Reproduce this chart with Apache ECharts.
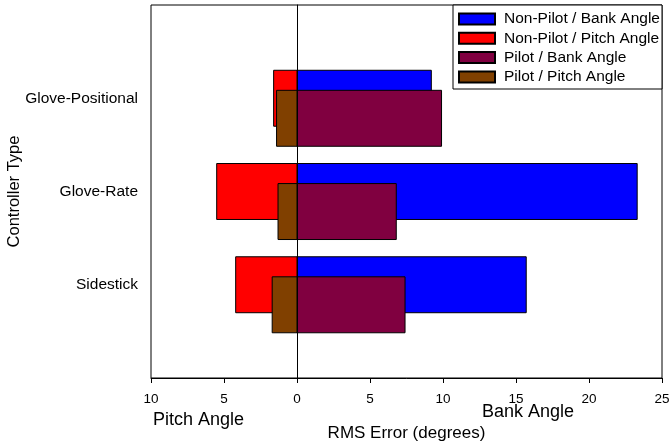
<!DOCTYPE html>
<html>
<head>
<meta charset="utf-8">
<script src="https://cdn.jsdelivr.net/npm/echarts@6/dist/echarts.min.js"></script>
<style>
  html, body { margin: 0; padding: 0; background: #fff; }
  #chart { width: 671px; height: 448px; }
</style>
</head>
<body>
<div id="chart"></div>
<script>
// Category slots on the y axis (blank slots pad the ends)
const categories = ['', 'Sidestick', 'Glove-Rate', 'Glove-Positional', ' '];
const controllers = ['Sidestick', 'Glove-Rate', 'Glove-Positional'];

// RMS error (degrees)
const nonPilotBank  = [15.7, 23.3, 9.2];
const nonPilotPitch = [4.2, 5.5, 1.6];
const pilotBank     = [7.4, 6.8, 9.9];
const pilotPitch    = [1.7, 1.3, 1.4];

const seriesNames = ['Non-Pilot / Bank Angle', 'Non-Pilot / Pitch Angle', 'Pilot / Bank Angle', 'Pilot / Pitch Angle'];
const seriesColors = ['#0000ff', '#ff0000', '#800040', '#804000'];

const xMin = -10, xMax = 25, xStep = 5;

const FONT = '"Liberation Sans", Arial, Helvetica, sans-serif';

function toData(vals, sign) {
  return vals.map((v, i) => [sign * v, categories.indexOf(controllers[i])]);
}

function makeRender(isPilot) {
  return function (params, api) {
    const v = api.value(0);
    const ci = api.value(1);
    const base = api.coord([0, ci]);
    const end = api.coord([v, ci]);
    const unit = api.size([0, 1])[1];
    const h = unit * 0.6;
    const cy = base[1] + (isPilot ? unit * 0.215 : 0);
    return {
      type: 'rect',
      shape: {
        x: Math.min(base[0], end[0]),
        y: cy - h / 2,
        width: Math.abs(end[0] - base[0]),
        height: h
      },
      style: api.style({ stroke: '#000', lineWidth: 1 })
    };
  };
}

const dataSets = [
  toData(nonPilotBank, 1),
  toData(nonPilotPitch, -1),
  toData(pilotBank, 1),
  toData(pilotPitch, -1)
];

const series = dataSets.map((d, i) => ({
  name: seriesNames[i],
  type: 'custom',
  renderItem: makeRender(i >= 2),
  encode: { x: 0, y: 1 },
  itemStyle: { color: seriesColors[i], borderColor: '#000', borderWidth: 1 },
  data: d,
  z: 2 + i
}));

series[3].markLine = {
  silent: true,
  symbol: ['none', 'none'],
  label: { show: false },
  lineStyle: { color: '#000', width: 1, type: 'solid' },
  data: [{ xAxis: 0 }],
  z: 10
};

const chart = echarts.init(document.getElementById('chart'), null, { renderer: 'canvas' });
chart.setOption({
  animation: false,
  backgroundColor: '#fff',
  textStyle: { fontFamily: FONT },
  grid: {
    left: 151, right: 9, top: 5, bottom: 70,
    containLabel: false,
    outerBoundsMode: 'none',
    show: true, borderColor: '#000', borderWidth: 1, backgroundColor: 'transparent'
  },
  xAxis: {
    type: 'value',
    min: xMin, max: xMax, interval: xStep,
    axisLine: { show: true, lineStyle: { color: '#000', width: 1 } },
    axisTick: { show: true, length: 5, lineStyle: { color: '#000' } },
    splitLine: { show: false },
    axisLabel: {
      color: '#000', fontSize: 13.5, fontFamily: FONT, margin: 14,
      formatter: v => String(Math.abs(v))
    },
    name: 'RMS Error (degrees)',
    nameLocation: 'middle',
    nameGap: 47,
    nameMoveOverlap: false,
    nameTextStyle: { color: '#000', fontSize: 17, fontFamily: FONT }
  },
  yAxis: {
    type: 'category',
    data: categories,
    boundaryGap: false,
    axisLine: { show: true, lineStyle: { color: '#000', width: 1 } },
    axisTick: {
      show: true, length: 5, lineStyle: { color: '#000' },
      interval: (idx, val) => String(val).trim() !== ''
    },
    axisLabel: {
      color: '#000', fontSize: 15.5, fontFamily: FONT, margin: 13,
      interval: 0
    },
    splitLine: { show: false },
    name: 'Controller Type',
    nameLocation: 'middle',
    nameGap: 128,
    nameRotate: 90,
    nameMoveOverlap: false,
    nameTextStyle: { color: '#000', fontSize: 16.5, fontFamily: FONT }
  },
  legend: {
    orient: 'vertical',
    left: 458, top: 11,
    padding: 0,
    itemWidth: 36, itemHeight: 11, itemGap: 3.3,
    icon: 'rect',
    data: seriesNames,
    textStyle: { color: '#000', fontSize: 15.5, fontFamily: FONT, padding: [0, 0, 0, 4] },
    z: 20
  },
  graphic: [
    {
      type: 'rect', z: 15,
      shape: { x: 453, y: 5, width: 209, height: 84 },
      style: { fill: '#fff', stroke: '#000', lineWidth: 1 }
    },
    {
      type: 'text', left: 153, top: 411, z: 15,
      style: { text: 'Pitch Angle', fill: '#000', font: '18px ' + FONT }
    },
    {
      type: 'text', left: 482, top: 403, z: 15,
      style: { text: 'Bank Angle', fill: '#000', font: '18px ' + FONT }
    }
  ],
  series: series
});
</script>
</body>
</html>
